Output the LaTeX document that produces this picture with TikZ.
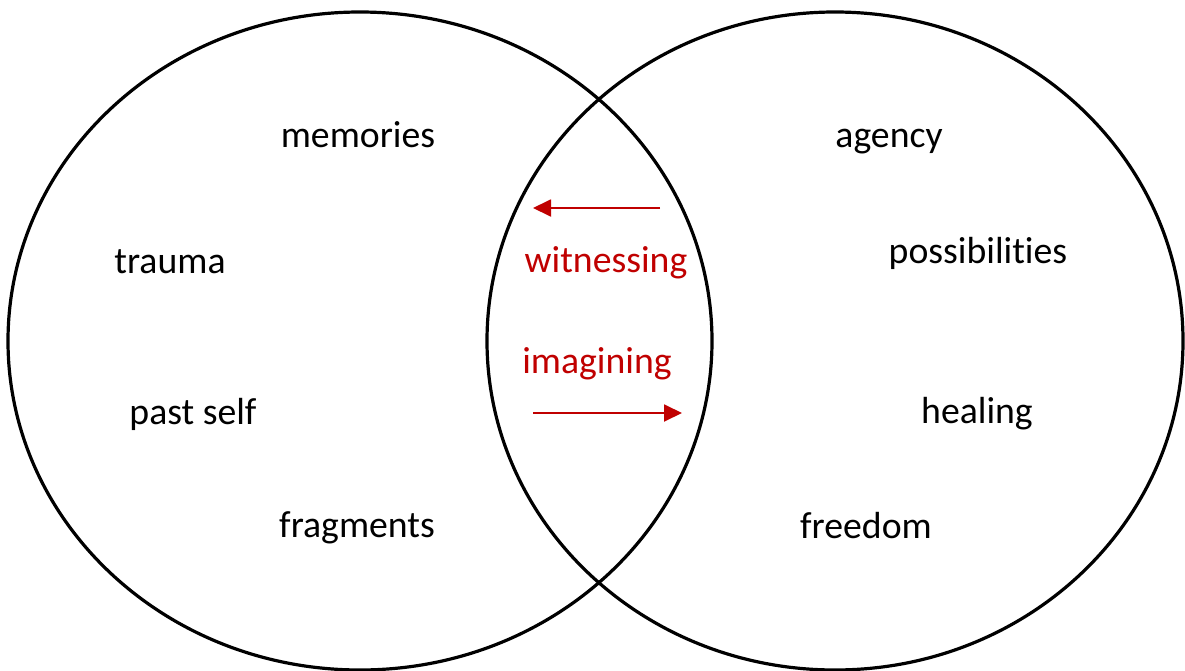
\documentclass[tikz,border=0pt]{standalone}
\usepackage{fontspec}
\setmainfont{Carlito}[RawFeature=-liga]
\usepackage{tikz}
\usetikzlibrary{arrows.meta, positioning}

\definecolor{darkred}{HTML}{C00000}

\begin{document}
\begin{tikzpicture}[
  x=0.75pt, y=-0.75pt,
  set/.style={draw, line width=2.4pt},
  word/.style={anchor=base, inner sep=0pt, font=\fontsize{28.3}{34}\selectfont},
  verb/.style={word, text=darkred},
  flow/.style={draw=darkred, line width=1.4pt, -{Triangle[length=13.5pt, width=12.75pt]}}
]
\useasboundingbox (0,0) rectangle (1185,671);

% the two sets
\draw[set] (360,341) ellipse [x radius=352, y radius=329];
\draw[set] (835,341) ellipse [x radius=348, y radius=329];

% left set
\node[word] (memories) at (358,147) {memories};
\node[word] (trauma)   at (170,273) {trauma};
\node[word] (pastself) at (193,424) {past self};
\node[word] (fragments) at (357,537) {fragments};

% right set
\node[word] (agency)   at (889,147) {agency};
\node[word] (possib)   at (978,263) {possibilities};
\node[word] (healing)  at (977,423) {healing};
\node[word] (freedom)  at (866,538) {freedom};

% overlap
\node[verb] (witness) at (606,272) {witnessing};
\node[verb] (imagine) at (597,373) {imagining};

\coordinate (wstart) at (660,208);
\coordinate (wend)   at (533,208);
\coordinate (istart) at (533,413);
\coordinate (iend)   at (682,413);
\draw[flow] (wstart) -- (wend);
\draw[flow] (istart) -- (iend);
\end{tikzpicture}
\end{document}
